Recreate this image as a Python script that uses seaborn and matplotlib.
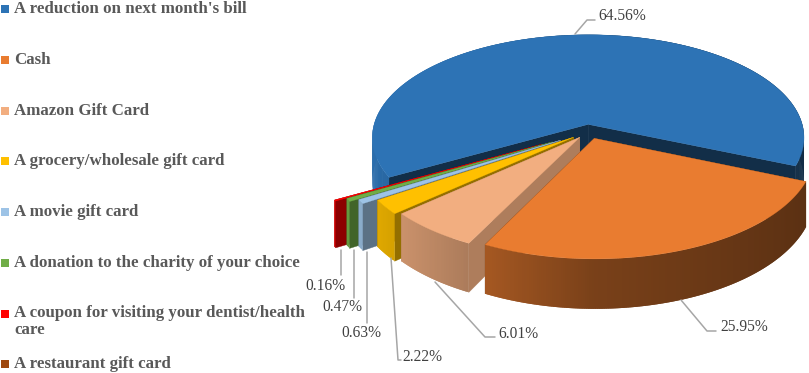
import numpy as np
import matplotlib
matplotlib.use("Agg")
import matplotlib.pyplot as plt
import seaborn as sns

categories = ["A reduction on next month's bill", "Cash", "Amazon Gift Card",
              "A grocery/wholesale gift card", "A movie gift card",
              "A donation to the charity of your choice",
              "A coupon for visiting your dentist/health\ncare",
              "A restaurant gift card"]
shares = [64.56, 25.95, 6.01, 2.22, 0.63, 0.47, 0.16, 0.0]
colors = ["#2d73b5", "#e97c30", "#f2ae80", "#ffc000", "#9dc3e6", "#70ad47", "#ff0000", "#9e480e"]

# how far each slice is pulled out, and how dark its cut faces are
explode = [0.07, 0.07, 0.07, 0.09, 0.155, 0.195, 0.245, 0.0]
face_shade = [0.40, 0.45, 0.72, 0.58, 0.58, 0.58, 0.55, 0.5]

legend_y = [8, 59, 110, 160, 211, 262, 313, 363]
label_xy = [(598, 16), (720, 327), (498, 334), (402, 357), (341, 333), (322, 307), (305, 286)]
leaders = [[(575, 34), (587, 20), (595, 20)],
           [(681, 300), (707, 331), (716, 331)],
           [(435, 282), (485, 337), (495, 337)],
           [(391, 258), (398, 360), (401, 360)],
           [(367, 252), (367, 323)],
           [(354, 250), (354, 298)],
           [(341, 250), (341, 275)]]

# camera for the fake 3D pie, in pixels
CX, CY = 589, 131.5
RX, RY = 216, 103
PERSP = 0.13
DEPTH = 43
START = 209.4

sns.set_theme(style="white")
plt.rcParams['font.family'] = ['Liberation Serif', 'DejaVu Serif']
palette = sns.color_palette(colors)


def project(x, y, z=0.0):
    """ pie plane coordinates to pixels, z=1 is the bottom of the pie """
    s = 1 / (1 + PERSP * y)
    return CX + RX * x * s, CY - RY * y * s + z * DEPTH * s


def shade(color, f):
    return tuple(min(1, c * f) for c in color)


def wall_shade(angle):
    """ wall gets lighter to the left, quicker on the left half """
    c = np.cos(angle)
    return 0.52 - (0.43 if c < 0 else 0.14) * c


def draw_slice(ax, t1, t2, off, color, face_f):
    mid = np.radians((t1 + t2) / 2)
    ox, oy = off * np.cos(mid), off * np.sin(mid)
    th = np.radians(np.linspace(t1, t2, max(int(abs(t1 - t2)) * 2, 3)))
    ax_x = ox + np.cos(th)
    ax_y = oy + np.sin(th)

    # cut faces first, the top covers whichever one faces away
    for i in [0, -1]:
        corners = [project(ox, oy), project(ax_x[i], ax_y[i]),
                   project(ax_x[i], ax_y[i], 1), project(ox, oy, 1)]
        ax.fill(*zip(*corners), color=shade(color, face_f), lw=0.3, zorder=2)

    # outer wall, split up so the shading can run along it
    # each piece runs over the next one so no seams show
    n = len(th)
    for j in range(n - 1):
        k = min(j + 2, n - 1)
        corners = [project(ax_x[j], ax_y[j]), project(ax_x[k], ax_y[k]),
                   project(ax_x[k], ax_y[k], 1), project(ax_x[j], ax_y[j], 1)]
        ax.fill(*zip(*corners), color=shade(color, wall_shade(th[j])), lw=0, zorder=2)

    top = [project(ox, oy)] + [project(a, b) for a, b in zip(ax_x, ax_y)]
    ax.fill(*zip(*top), color=color, lw=0.2, zorder=2)


fig, ax = plt.subplots(figsize=(8.09, 3.73), dpi=100)
fig.subplots_adjust(left=0, right=1, bottom=0, top=1)
ax.set_xlim(0, 809)
ax.set_ylim(373, 0)
ax.axis('off')

# slice angles, clockwise from the start
edges = START - np.cumsum([0] + shares) * 3.6
order = [0, 6, 5, 4, 3, 2, 1]
for i in order:
    draw_slice(ax, edges[i], edges[i + 1], explode[i], palette[i], face_shade[i])

for pts in leaders:
    ax.plot(*zip(*pts), color="#a6a6a6", lw=1.1, zorder=3)

for (x, y), v in zip(label_xy, shares):
    ax.text(x, y, f"{v:.2f}%", fontsize=11.2, color="#404040", va='center', ha='left', zorder=4)

for name, y, c in zip(categories, legend_y, palette):
    ax.scatter([5.5], [y + 0.5], marker='s', s=36, color=[c], lw=0, zorder=4)
    two_lines = "\n" in name
    ax.text(14, y - 8 if two_lines else y + 1, name, fontsize=12.2, fontweight='bold',
            color="#595959", va='top' if two_lines else 'center', ha='left',
            linespacing=1.1, zorder=4)

plt.savefig('out.png', dpi=100)
